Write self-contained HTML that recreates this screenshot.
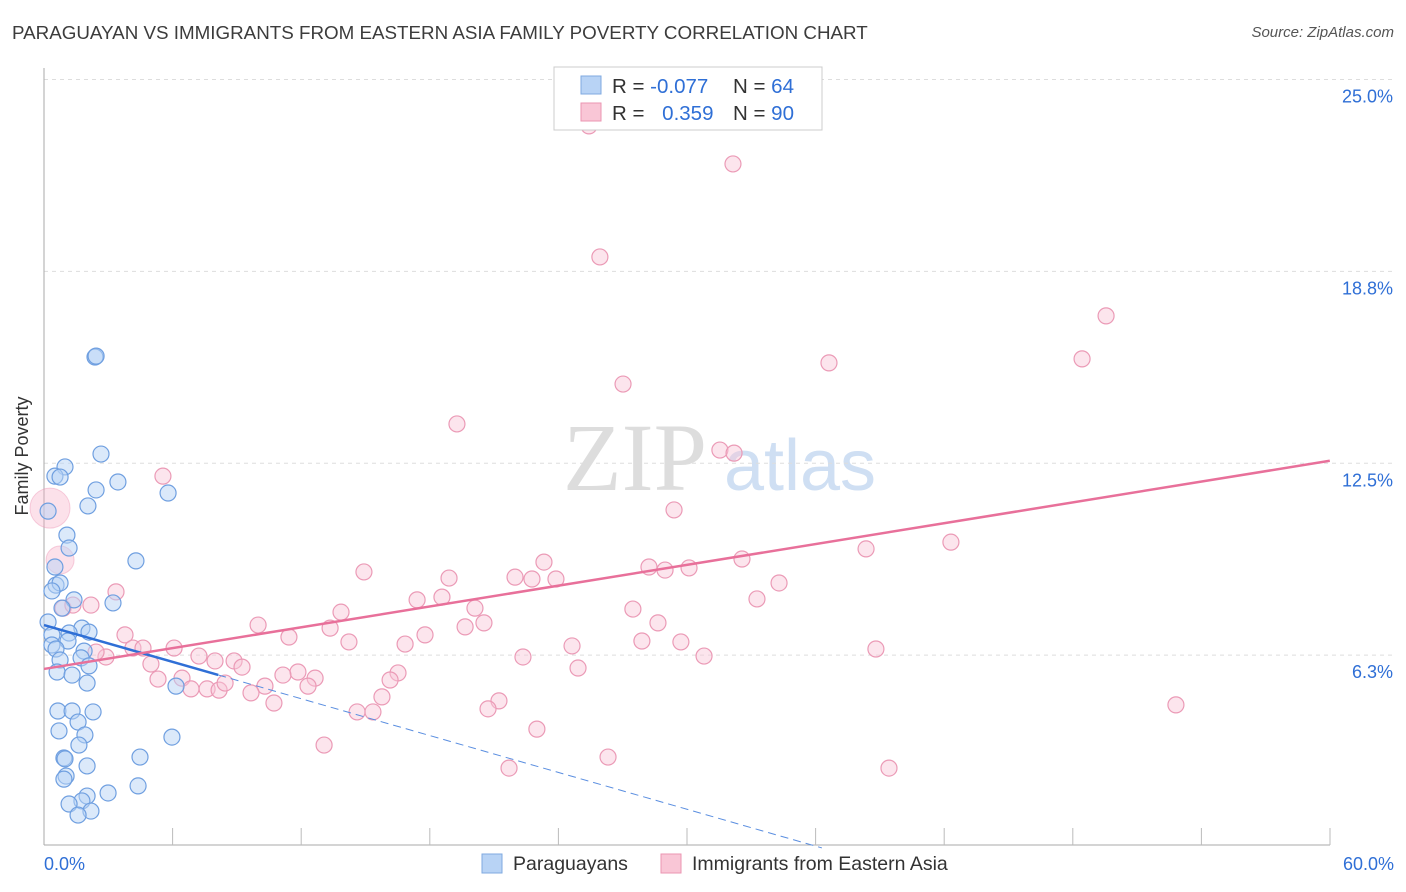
<!DOCTYPE html>
<html><head><meta charset="utf-8"><style>
body{margin:0;background:#fff;font-family:"Liberation Sans",sans-serif;}
#wrap{position:relative;width:1406px;height:892px;overflow:hidden;}
.title{position:absolute;left:12px;top:22px;font-size:18.8px;color:#3c3c3c;}
.src{position:absolute;right:12px;top:24px;font-size:15px;color:#555;font-style:italic;}
</style></head><body>
<div id="wrap">
<div class="title">PARAGUAYAN VS IMMIGRANTS FROM EASTERN ASIA FAMILY POVERTY CORRELATION CHART</div>
<div class="src">Source: ZipAtlas.com</div>
<svg id="svg" width="1406" height="892" style="position:absolute;left:0;top:0">
<text x="635" y="490" font-size="96" fill="#ddd" font-family="Liberation Serif" text-anchor="middle">ZIP</text>
<text x="800" y="490" font-size="72" fill="#cfdff3" text-anchor="middle">atlas</text>
<g id="grid"></g><g id="marks"></g><g id="lines"></g>
<rect x="554" y="67" width="268" height="63" fill="#fff" stroke="#ccc"/>
<rect x="581" y="76" width="20" height="18" fill="#b8d3f5" stroke="#7fa9e0"/>
<rect x="581" y="103" width="20" height="18" fill="#f9c6d6" stroke="#eb95b2"/>
<text x="612" y="93" font-size="20.5" fill="#333">R = <tspan fill="#2f6fd6">-0.077</tspan></text>
<text x="733" y="93" font-size="20.5" fill="#333">N = <tspan fill="#2f6fd6">64</tspan></text>
<text x="612" y="120" font-size="20.5" fill="#333">R = <tspan fill="#2f6fd6" dx="12">0.359</tspan></text>
<text x="733" y="120" font-size="20.5" fill="#333">N = <tspan fill="#2f6fd6">90</tspan></text>
<text x="28" y="456" font-size="18" fill="#333" text-anchor="middle" transform="rotate(-90 28 456)">Family Poverty</text>
<text x="44" y="870" font-size="18" fill="#2f6fd6">0.0%</text>
<text x="1394" y="870" font-size="18" fill="#2f6fd6" text-anchor="end">60.0%</text>
<rect x="482" y="854" width="20" height="19" fill="#b8d3f5" stroke="#7fa9e0"/>
<text x="513" y="870" font-size="19.5" fill="#333">Paraguayans</text>
<rect x="661" y="854" width="20" height="19" fill="#f9c6d6" stroke="#eb95b2"/>
<text x="692" y="870" font-size="19.5" fill="#333">Immigrants from Eastern Asia</text>
</svg>
</div>
<script>
const yTicks=[6.25,12.5,18.75,25];
const yTickLabels=["6.3%","12.5%","18.8%","25.0%"];
const blueX=[2.38,2.43,2.66,0.98,3.45,0.51,0.75,2.43,5.79,2.05,0.19,1.07,1.17,4.29,0.51,0.56,0.75,0.37,1.4,0.84,3.22,0.19,1.77,1.17,2.1,0.37,0.37,1.12,0.56,1.87,1.73,0.75,2.1,0.61,1.31,2.01,6.16,0.65,1.31,2.29,1.59,0.7,1.91,5.97,1.63,0.93,0.98,4.48,2.01,1.03,0.93,2.99,4.39,2.01,1.77,1.17,2.19,1.59];
const blueY=[15.96,15.99,12.8,12.38,11.89,12.08,12.05,11.63,11.53,11.11,10.94,10.16,9.74,9.32,9.12,8.53,8.6,8.34,8.05,7.78,7.95,7.33,7.13,6.97,7.0,6.91,6.58,6.71,6.45,6.38,6.16,6.09,5.9,5.7,5.6,5.34,5.24,4.43,4.43,4.4,4.07,3.78,3.65,3.58,3.32,2.9,2.87,2.93,2.64,2.31,2.21,1.76,1.99,1.66,1.5,1.4,1.17,1.04];
const pinkX=[25.43,32.15,25.94,49.56,48.44,36.63,27.02,19.27,31.54,32.2,5.55,29.4,42.32,38.36,23.33,32.57,28.23,28.98,30.1,21.98,22.77,23.89,14.93,18.9,34.3,3.36,17.41,18.57,33.27,0.89,1.35,2.19,13.86,20.11,27.48,9.99,13.35,19.65,20.53,28.65,3.78,11.43,14.23,17.78,16.85,24.64,27.9,29.72,38.82,4.15,4.62,6.07,2.89,7.23,2.43,4.99,7.98,8.87,9.24,22.35,24.92,30.8,5.32,6.44,11.85,11.15,12.65,16.52,10.31,6.86,7.61,8.17,8.45,9.66,12.32,16.15,15.77,10.73,21.23,20.72,14.61,15.35,52.82,23.0,13.07,26.32,21.7,39.43];
const pinkY=[23.49,22.25,19.22,17.3,15.9,15.77,15.08,13.78,12.93,12.83,12.08,10.98,9.93,9.71,9.28,9.38,9.12,9.02,9.09,8.79,8.73,8.73,8.96,8.76,8.6,8.31,8.05,8.14,8.08,7.78,7.88,7.88,7.65,7.78,7.75,7.23,7.13,7.17,7.3,7.3,6.91,6.84,6.68,6.91,6.61,6.55,6.71,6.68,6.45,6.48,6.48,6.48,6.19,6.22,6.35,5.96,6.06,6.06,5.86,6.19,5.83,6.22,5.47,5.5,5.7,5.6,5.5,5.67,5.24,5.15,5.15,5.11,5.34,5.02,5.24,5.44,4.89,4.69,4.76,4.5,4.4,4.4,4.63,3.84,3.32,2.93,2.57,2.57];
const bigPinkX=[0.28,0.75];
const bigPinkY=[11.04,9.35];
const blueTrend=[7.23,-0.2];
const pinkTrend=[5.8,0.113];
const blueSolidEnd=8.13, blueDashEnd=36.3;
const X=v=>44+v*21.43, Y=v=>847-v*30.7;
const NS="http://www.w3.org/2000/svg";
function mk(t,a,parent){const e=document.createElementNS(NS,t);for(const k in a)e.setAttribute(k,a[k]);document.getElementById(parent).appendChild(e);return e;}
yTicks.forEach((t,i)=>{
 const l=mk('line',{x1:44,x2:1394,y1:Y(t),y2:Y(t),stroke:'#ddd','stroke-dasharray':'4 4'},'grid');
 
 
 const tx=mk('text',{x:1393,y:Y(t)+23,'font-size':18,fill:'#2f6fd6','text-anchor':'end'},'grid');
 tx.textContent=yTickLabels[i];
 
 
});
const ax=mk('line',{x1:44,x2:1330,y1:845,y2:845,stroke:'#aaa'},'grid');


const ay=mk('line',{x1:44,x2:44,y1:68,y2:845,stroke:'#aaa'},'grid');


for(let i=1;i<=10;i++){const t=mk('line',{x1:44+i*128.6,x2:44+i*128.6,y1:828,y2:845,stroke:'#bbb'},'grid');
 
 }
bigPinkX.forEach((v,i)=>{const c=mk('circle',{cx:X(v),cy:Y(bigPinkY[i]),r:i?14:20,fill:'rgba(245,170,195,0.35)',stroke:'rgba(235,140,175,0.4)'},'marks');
 
 });
pinkX.forEach((v,i)=>{const c=mk('circle',{cx:X(v),cy:Y(pinkY[i]),r:8,fill:'rgba(249,198,214,0.45)',stroke:'#eb9ab6','stroke-width':1.2},'marks');
 
 });
blueX.forEach((v,i)=>{const c=mk('circle',{cx:X(v),cy:Y(blueY[i]),r:8,fill:'rgba(184,211,245,0.5)',stroke:'#6f9fe0','stroke-width':1.2},'marks');
 
 });
const bt=v=>blueTrend[0]+blueTrend[1]*v, pt=v=>pinkTrend[0]+pinkTrend[1]*v;
const l1=mk('line',{x1:X(0),y1:Y(bt(0)),x2:X(blueSolidEnd),y2:Y(bt(blueSolidEnd)),stroke:'#2f6fd6','stroke-width':2.5},'lines');


const l2=mk('line',{x1:X(blueSolidEnd),y1:Y(bt(blueSolidEnd)),x2:X(blueDashEnd),y2:Y(bt(blueDashEnd)),stroke:'#5a8ee0','stroke-width':1,'stroke-dasharray':'8 5'},'lines');


const l3=mk('line',{x1:X(0),y1:Y(pt(0)),x2:X(60),y2:Y(pt(60)),stroke:'#e8709a','stroke-width':2.5},'lines');


</script>
</body></html>
